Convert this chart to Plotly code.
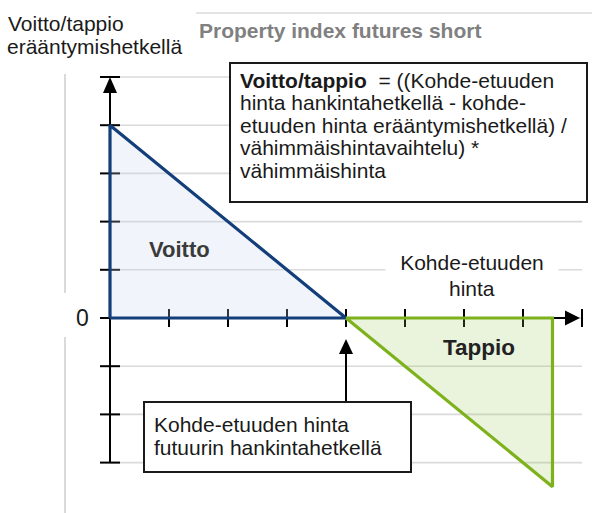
import plotly.graph_objects as go

# ---------------- data ----------------
price = [0, 4, 7.5]            # underlying price at expiry (axis units)
pnl = [4, 0, -3.5]             # profit / loss of the short future
entry_price = 4                # price when the future was bought
x_ticks = [1, 2, 3, 4, 5, 6, 7]
y_ticks = [-3, -2, -1, 0, 1, 2, 3, 4, 5]
x_axis_max = 8
y_axis_min, y_axis_max = -3, 5

title_text = "<b>Property index futures short</b>"
ylabel_lines = ["Voitto/tappio", "erääntymishetkellä"]
xlabel_lines = ["Kohde-etuuden", "hinta"]
formula_lines = [
    "<b>Voitto/tappio</b>  = ((Kohde-etuuden",
    "hinta hankintahetkellä - kohde-",
    "etuuden hinta erääntymishetkellä) /",
    "vähimmäishintavaihtelu) *",
    "vähimmäishinta",
]
entry_lines = ["Kohde-etuuden hinta", "futuurin hankintahetkellä"]

# ---------------- geometry / style ----------------
W, H = 592, 513
X0PX, Y0PX = 110, 318        # pixel position of the origin
UX, UY = 59.0, 48.2          # pixels per unit
FONT = "Liberation Sans, Arial, sans-serif"
BLUE = "#123e7a"
GREEN = "#7db21c"
GRID = "#dadada"


def px(xp):
    return xp / W


def py(yp):
    return 1 - yp / H


def dx(p):
    return p / UX


def dy(p):
    return p / UY


shapes = []
# grid lines
for t in y_ticks:
    shapes.append(dict(type="line", xref="x", yref="y", x0=0, x1=x_axis_max, y0=t, y1=t,
                       line=dict(color=GRID, width=1.6), layer="below"))
# top separator line and left light vertical line
shapes.append(dict(type="line", xref="paper", yref="paper", x0=px(196), x1=1, y0=py(13), y1=py(13),
                   line=dict(color=GRID, width=1.6), layer="below"))
shapes.append(dict(type="line", xref="paper", yref="paper", x0=px(65), x1=px(65), y0=py(74), y1=py(293),
                   line=dict(color=GRID, width=2), layer="below"))
shapes.append(dict(type="line", xref="paper", yref="paper", x0=px(65), x1=px(65), y0=py(337), y1=py(513),
                   line=dict(color=GRID, width=2), layer="below"))

# axes
shapes.append(dict(type="line", xref="x", yref="y", x0=0, x1=0, y0=y_axis_min, y1=y_axis_max - dy(10),
                   line=dict(color="black", width=2), layer="below"))
shapes.append(dict(type="line", xref="x", yref="y", x0=0, x1=x_axis_max - dx(10), y0=0, y1=0,
                   line=dict(color="black", width=2), layer="below"))
# y ticks (including end bars)
for t in y_ticks:
    shapes.append(dict(type="line", xref="x", yref="y", x0=-dx(10), x1=dx(10), y0=t, y1=t,
                       line=dict(color="black", width=2), layer="below"))
# x ticks (including end bar)
for t in x_ticks + [x_axis_max]:
    shapes.append(dict(type="line", xref="x", yref="y", x0=t, x1=t, y0=-dy(9), y1=dy(9),
                       line=dict(color="black", width=2), layer="below"))

# arrowheads
ya = y_axis_max
shapes.append(dict(type="path", xref="x", yref="y",
                   path=f"M 0 {ya} L {-dx(7)} {ya - dy(16)} L {dx(7)} {ya - dy(16)} Z",
                   fillcolor="black", line=dict(width=0), layer="above"))
xa = x_axis_max - dx(2)
shapes.append(dict(type="path", xref="x", yref="y",
                   path=f"M {xa} 0 L {xa - dx(15)} {dy(7.5)} L {xa - dx(15)} {-dy(7.5)} Z",
                   fillcolor="black", line=dict(width=0), layer="above"))
# arrow pointing to entry price
tip = -dy(21)
shapes.append(dict(type="line", xref="x", yref="y", x0=entry_price, x1=entry_price,
                   y0=-dy(402 - Y0PX), y1=tip - dy(12),
                   line=dict(color="black", width=2), layer="above"))
shapes.append(dict(type="path", xref="x", yref="y",
                   path=f"M {entry_price} {tip} L {entry_price - dx(7)} {tip - dy(15)} "
                        f"L {entry_price + dx(7)} {tip - dy(15)} Z",
                   fillcolor="black", line=dict(width=0), layer="above"))

# text boxes
shapes.append(dict(type="rect", xref="paper", yref="paper", x0=px(230), x1=px(587), y0=py(63), y1=py(202),
                   fillcolor="white", line=dict(color="#1a1a1a", width=2), layer="above"))
shapes.append(dict(type="rect", xref="paper", yref="paper", x0=px(144), x1=px(411), y0=py(402), y1=py(472),
                   fillcolor="white", line=dict(color="#1a1a1a", width=2), layer="above"))

fig = go.Figure()
# profit triangle
fig.add_trace(go.Scatter(
    x=[price[0], price[0], price[1], price[0]], y=[0, pnl[0], pnl[1], 0],
    mode="lines", fill="toself", fillcolor="rgba(200,212,235,0.25)",
    line=dict(color=BLUE, width=3.2), hoverinfo="skip", showlegend=False))
# loss triangle
fig.add_trace(go.Scatter(
    x=[price[1], price[2], price[2], price[1]], y=[pnl[1], 0, pnl[2], pnl[1]],
    mode="lines", fill="toself", fillcolor="rgba(150,195,80,0.2)",
    line=dict(color=GREEN, width=3.2), hoverinfo="skip", showlegend=False))

ann = []


def text(t, x, y, size=21, color="#1a1a1a", xanchor="left", **kw):
    ann.append(dict(text=t, x=px(x), y=py(y), xref="paper", yref="paper", showarrow=False,
                    xanchor=xanchor, yanchor="middle", font=dict(family=FONT, size=size, color=color), **kw))


text(ylabel_lines[0], 6, 23.5)
text(ylabel_lines[1], 5, 46.5)
text(title_text, 197, 31, size=21, color="#808080")
for i, line in enumerate(formula_lines):
    text(line, 238, 80 + i * 22.6)
for i, line in enumerate(entry_lines):
    text(line, 152, 424.7 + i * 23)
text(xlabel_lines[0], 472, 262, xanchor="center", bgcolor="white", width=170)
text(xlabel_lines[1], 472, 288, xanchor="center")
text("<b>Voitto</b>", 179, 249, size=22, color="#3a3a3a", xanchor="center")
text("<b>Tappio</b>", 479, 347, size=22.5, color="#222222", xanchor="center")
text("0", 82, 318, size=23, color="#1a1a1a", xanchor="center")

fig.update_layout(
    width=W, height=H, margin=dict(l=0, r=0, t=0, b=0),
    paper_bgcolor="white", plot_bgcolor="white",
    xaxis=dict(range=[-X0PX / UX, (W - X0PX) / UX], visible=False, fixedrange=True),
    yaxis=dict(range=[-(H - Y0PX) / UY, Y0PX / UY], visible=False, fixedrange=True),
    shapes=shapes, annotations=ann, showlegend=False,
)

fig.write_html("out.html", config={"displayModeBar": False},
               post_script="document.body.style.margin='0';document.body.style.overflow='hidden';")
